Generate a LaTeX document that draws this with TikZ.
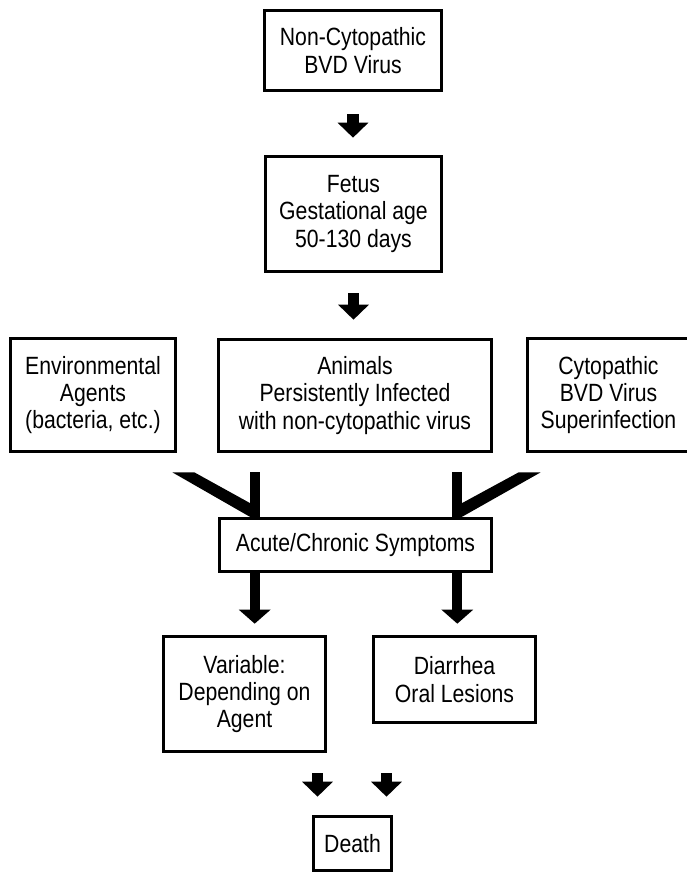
\documentclass[tikz,border=0pt]{standalone}
\usepackage{fontspec}
\setmainfont{Liberation Sans}[FakeStretch=0.85]
\usetikzlibrary{arrows.meta,calc}
\tikzset{every node/.style={draw, line width=1.8pt, align=center, inner sep=0pt, font=\fontsize{14.2}{15.6}\selectfont},
  blk/.style={line width=0.23cm, -{Triangle[width=0.6cm,length=0.3cm]}},
  blkb/.style={line width=0.2cm, -{Triangle[width=0.62cm,length=0.28cm]}},
  bar/.style={line width=0.2cm}}

\begin{document}
\begin{tikzpicture}[x=0.02cm,y=-0.02cm]
  \useasboundingbox (0,0) rectangle (686,875);
  \node[minimum width=3.55cm,minimum height=1.61cm] (nv) at (353,50.5) {Non-Cytopathic\\BVD Virus};
  \node[minimum width=3.53cm,minimum height=2.31cm] (fetus) at (353.5,214) {Fetus\\Gestational age\\50-130 days};
  \node[minimum width=3.31cm,minimum height=2.27cm] (env) at (93,395) {Environmental\\Agents\\(bacteria, etc.)};
  \node[minimum width=5.47cm,minimum height=2.25cm] (animals) at (355,395.5) {Animals\\Persistently Infected\\with non-cytopathic virus};
  \node[minimum width=3.25cm,minimum height=2.27cm] (cyto) at (608.5,395) {Cytopathic\\BVD Virus\\Superinfection};
  \node[minimum width=5.45cm,minimum height=1.07cm] (acute) at (355.5,545) {Acute/Chronic Symptoms};
  \node[minimum width=3.25cm,minimum height=2.31cm] (var) at (244.5,694) {Variable:\\Depending on\\Agent};
  \node[minimum width=3.25cm,minimum height=1.73cm] (diar) at (454.5,679.5) {Diarrhea\\Oral Lesions};
  \node[minimum width=1.57cm,minimum height=1.09cm] (death) at (352.5,843.5) {Death};

  \draw[blk, shorten <=0.44cm, shorten >=0.34cm] (nv.south) -- (nv.south |- fetus.north);
  \draw[blk, shorten <=0.4cm, shorten >=0.36cm] (fetus.south) -- (fetus.south |- animals.north);

  \coordinate (lj) at ($(acute.north west)+(37,0)$);
  \coordinate (rj) at ($(acute.north east)+(-36,0)$);
  \draw[bar] (lj) -- ($(lj |- animals.south)+(0,19)$);
  \draw[bar] (rj) -- ($(rj |- animals.south)+(0,19)$);
  \fill ($(env.south east)+(-5,19)$) -- ++(22,0) -- ($(lj)+(0,-11)$) -- (lj) -- ($(lj)+(-5,0)$) -- cycle;
  \fill ($(cyto.south west)+(15,19)$) -- ++(-22,0) -- ($(rj)+(0,-11)$) -- (rj) -- ($(rj)+(5,0)$) -- cycle;

  \coordinate (la) at ($(acute.south west)+(37,0)$);
  \coordinate (ra) at ($(acute.south east)+(-36,0)$);
  \draw[blkb, shorten >=0.22cm] (la) -- (la |- var.north);
  \draw[blkb, shorten >=0.22cm] (ra) -- (ra |- diar.north);

  \coordinate (dl) at ($(death.north)+(-35,0)$);
  \coordinate (dr) at ($(death.north)+(34,0)$);
  \draw[blk, shorten <=0.4cm, shorten >=0.36cm] (dl |- var.south) -- (dl);
  \draw[blk, shorten <=0.98cm, shorten >=0.36cm] (dr |- diar.south) -- (dr);
\end{tikzpicture}
\end{document}
